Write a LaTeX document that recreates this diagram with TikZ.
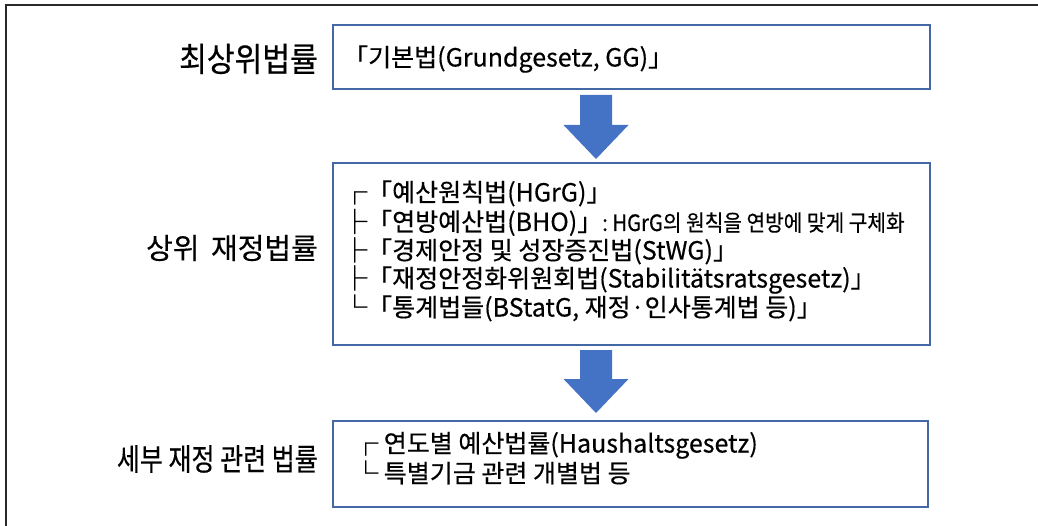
\documentclass[tikz,border=0pt]{standalone}
\usepackage{fontspec}
\newfontfamily\kr{Noto Sans CJK KR}[FakeBold=0.4]
\newfontfamily\krnarrow{Noto Sans CJK KR}[FakeStretch=0.9,FakeBold=0.4]
\newfontfamily\krthird{Noto Sans CJK KR}[FakeStretch=0.82,FakeBold=0.4]
\newfontfamily\krsmall{Noto Sans CJK KR}[FakeStretch=0.9,FakeBold=0.4]
\usetikzlibrary{calc}
\definecolor{boxline}{RGB}{68,104,166}
\definecolor{arrowfill}{RGB}{68,114,196}
\definecolor{frameline}{RGB}{40,40,40}
\newcommand\smallkr{\krsmall\fontsize{22.5}{26}\selectfont}
\tikzset{
  lawbox/.style={draw=boxline, line width=1.8pt, fill=white, inner sep=0pt, outer sep=0pt, anchor=north west},
  levellabel/.style={anchor=east, inner sep=0pt},
  boxtext/.style={font=\kr\fontsize{25}{29}\selectfont, anchor=base west, inner sep=0pt},
  bigarrow/.style={fill=arrowfill, draw=none}
}
\begin{document}
\begin{tikzpicture}[x=1pt,y=-1pt]
\useasboundingbox (0,0) rectangle (1038,526);
% outer frame (left and top edges only)
\draw[frameline, line width=2.6pt] (6,526) -- (6,5) -- (1038,5);

% boxes
\node[lawbox, minimum width=597pt, minimum height=64pt] (b1) at (333,25) {};
\node[lawbox, minimum width=597pt, minimum height=182pt] (b2) at (333,163) {};
\node[lawbox, minimum width=595pt, minimum height=86pt] (b3) at (333,421) {};

% level labels
\node[levellabel, font=\krnarrow\fontsize{33.5}{36}\selectfont] (l1) at (318,59) {최상위법률};
\node[levellabel, font=\kr\fontsize{29}{33}\selectfont] (l2) at (318,248) {상위\hspace{0.4em}재정법률};
\node[levellabel, font=\krthird\fontsize{30.5}{34}\selectfont] (l3) at (318,459) {세부 재정 관련 법률};

% box 1 text
\node[boxtext] (t1) at (343,66.5) {「기본법(Grundgesetz, GG)」};

% box 2 text
\node[boxtext] (t21) at (342,201.5) {┌「예산원칙법(HGrG)」};
\node[boxtext] (t22) at (342,231) {├「연방예산법(BHO)」{\smallkr: HGrG의 원칙을 연방에 맞게 구체화}};
\node[boxtext] (t23) at (342,259.5) {├「경제안정 및 성장증진법(StWG)」};
\node[boxtext] (t24) at (342,287.5) {├「재정안정화위원회법(Stabilitätsratsgesetz)」};
\node[boxtext] (t25) at (342,316.5) {└「통계법들(BStatG, 재정·인사통계법 등)」};

% box 3 text
\node[boxtext] (t31) at (353,452.5) {┌ 연도별 예산법률(Haushaltsgesetz)};
\node[boxtext] (t32) at (353,482.5) {└ 특별기금 관련 개별법 등};

% block arrows between boxes
\coordinate (a1) at ($(b1.south)+(-35.5,6)$);
\fill[bigarrow] (a1) ++(-16,0) -- ++(32,0) -- ++(0,30) -- ++(16.5,0)
  -- ($(a1 |- b2.north)+(0,-4)$) -- ++(-32.5,-34) -- ++(16.5,0) -- cycle;
\coordinate (a2) at ($(b2.south)+(-35.5,5)$);
\fill[bigarrow] (a2) ++(-16,0) -- ++(32,0) -- ++(0,29) -- ++(16.5,0)
  -- ($(a2 |- b3.north)+(0,-8)$) -- ++(-32.5,-34) -- ++(16.5,0) -- cycle;
\end{tikzpicture}
\end{document}
